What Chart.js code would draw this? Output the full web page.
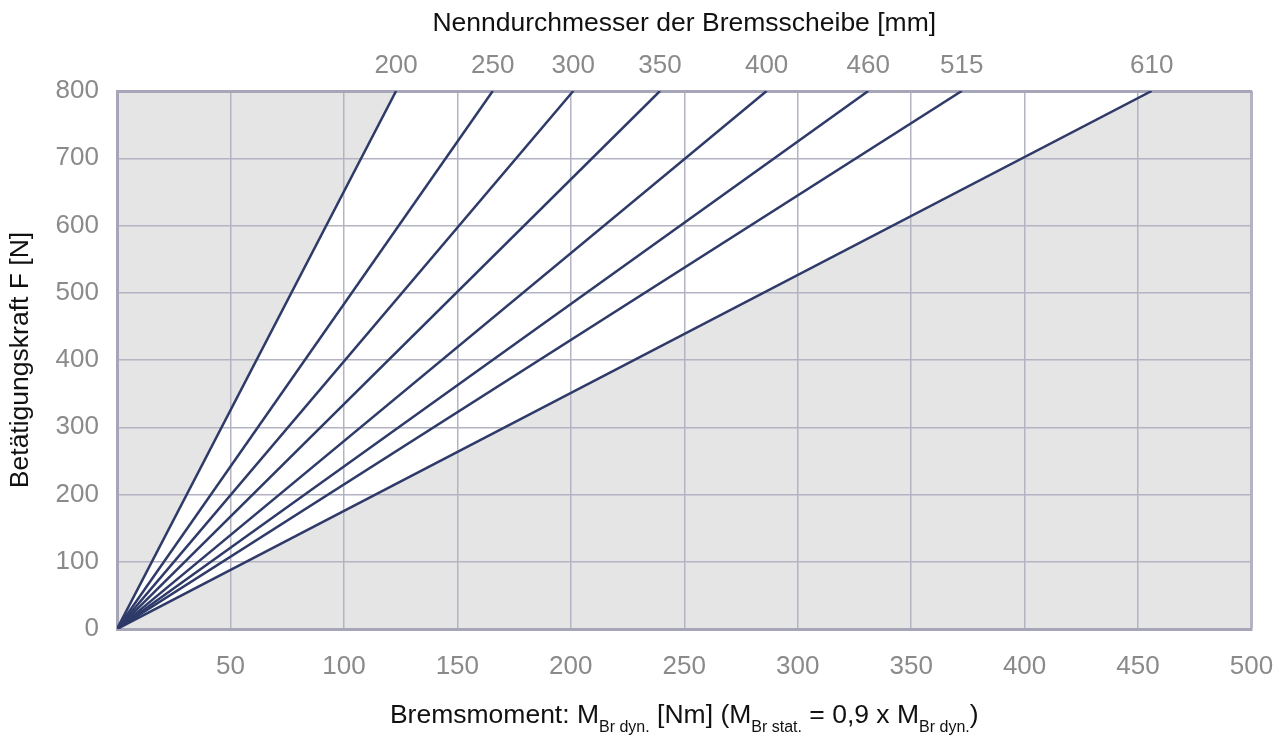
<!DOCTYPE html>
<html>
<head>
<meta charset="utf-8">
<script src="https://cdn.jsdelivr.net/npm/chart.js@4"></script>
<style>
  html, body { margin: 0; padding: 0; background: #ffffff; }
  #wrap { width: 1281px; height: 737px; }
</style>
</head>
<body>
<div id="wrap"><canvas id="c" width="1281" height="737"></canvas></div>
<script>
// ---- data ----
const diameterLabels = ['200', '250', '300', '350', '400', '460', '515', '610'];      // Nenndurchmesser [mm]
const torqueAtMaxForce = [123.0, 165.6, 201.1, 239.3, 286.3, 331.1, 372.3, 456.0];     // Nm at F = 800 N
const forceStart = 0;
const forceMax = 800;
const torqueMin = 0;
const torqueMax = 500;
const torqueStep = 50;
const forceStep = 100;

// ---- styles ----
const FONT = "'Liberation Sans', Arial, sans-serif";
const LINE_COLOR = '#2e3a68';
const GREY_FILL = '#e5e5e5';
const GRID_COLOR = '#b3b3c3';
const BORDER_COLOR = '#a6a6b8';
const TICK_COLOR = '#8a8a8a';

const datasets = [];
// shaded region below the largest-diameter line (and right of it)
const last = torqueAtMaxForce.length - 1;
datasets.push({
  data: [{x: torqueMin, y: forceStart}, {x: torqueAtMaxForce[last], y: forceMax}, {x: torqueMax, y: forceMax}],
  borderWidth: 0, pointRadius: 0, fill: 'start', backgroundColor: GREY_FILL, borderColor: 'rgba(0,0,0,0)'
});
diameterLabels.forEach((d, i) => {
  datasets.push({
    label: d,
    data: [{x: torqueMin, y: forceStart}, {x: torqueAtMaxForce[i], y: forceMax}],
    borderColor: LINE_COLOR,
    borderWidth: 2.5,
    pointRadius: 0,
    fill: i === 0 ? 'end' : false,
    backgroundColor: GREY_FILL
  });
});

const xTitlePlugin = {
  id: 'xTitle',
  afterDraw(chart) {
    const ctx = chart.ctx;
    const parts = [
      ['Bremsmoment: M', false], ['Br dyn.', true], [' [Nm] (M', false], ['Br stat.', true],
      [' = 0,9 x M', false], ['Br dyn.', true], [')', false]
    ];
    const big = '26.5px ' + FONT, small = '16px ' + FONT;
    ctx.save();
    let total = 0;
    parts.forEach(p => { ctx.font = p[1] ? small : big; total += ctx.measureText(p[0]).width; });
    const area = chart.chartArea;
    let x = (area.left + area.right) / 2 - total / 2;
    const base = 723;
    ctx.fillStyle = '#111111';
    ctx.textBaseline = 'alphabetic';
    ctx.textAlign = 'left';
    parts.forEach(p => {
      ctx.font = p[1] ? small : big;
      ctx.fillText(p[0], x, p[1] ? base + 8.5 : base);
      x += ctx.measureText(p[0]).width;
    });
    ctx.restore();
  }
};

new Chart(document.getElementById('c'), {
  type: 'scatter',
  data: { datasets },
  options: {
    responsive: false,
    animation: false,
    devicePixelRatio: 1,
    showLine: true,
    layout: { padding: { left: 0, top: 0, bottom: 0, right: 29.5 } },
    plugins: {
      legend: { display: false },
      tooltip: { enabled: false },
      filler: { drawTime: 'beforeDraw' }
    },
    scales: {
      x: {
        type: 'linear', position: 'bottom', min: torqueMin, max: torqueMax,
        ticks: {
          stepSize: torqueStep, padding: 22, color: TICK_COLOR,
          font: { family: FONT, size: 26 },
          callback: v => (v === torqueMin ? '' : String(v))
        },
        grid: {
          drawTicks: false, color: GRID_COLOR,
          lineWidth: c => (c.tick && c.tick.value === torqueMax ? 3 : 1.5)
        },
        border: { display: true, color: BORDER_COLOR, width: 3 },
        afterFit: s => { s.height = 108; s.paddingLeft = 0; s.paddingRight = 0; }
      },
      x2: {
        type: 'linear', position: 'top', min: torqueMin, max: torqueMax,
        afterBuildTicks: s => { s.ticks = torqueAtMaxForce.map(v => ({ value: v })); },
        ticks: {
          padding: 10, color: TICK_COLOR, font: { family: FONT, size: 26 },
          autoSkip: false, maxRotation: 0,
          callback: (v, i) => diameterLabels[i]
        },
        grid: { display: false, drawTicks: false },
        border: { display: true, color: BORDER_COLOR, width: 3 },
        title: {
          display: true, text: 'Nenndurchmesser der Bremsscheibe [mm]', color: '#111111',
          font: { family: FONT, size: 26.5 }, padding: { top: 8, bottom: 0 }
        },
        afterFit: s => { s.height = 91; s.paddingLeft = 0; s.paddingRight = 0; }
      },
      y: {
        type: 'linear', position: 'left', min: forceStart, max: forceMax,
        ticks: { stepSize: forceStep, padding: 18, color: TICK_COLOR, font: { family: FONT, size: 26 } },
        grid: {
          drawTicks: false, color: GRID_COLOR,
          lineWidth: c => (c.tick && c.tick.value === forceMax ? 3 : 1.5)
        },
        border: { display: true, color: BORDER_COLOR, width: 3 },
        title: {
          display: true, text: 'Betätigungskraft F [N]', color: '#111111',
          font: { family: FONT, size: 26.5 }, padding: { top: 5, bottom: 0 }
        },
        afterFit: s => { s.width = 117; s.paddingTop = 0; s.paddingBottom = 0; }
      }
    }
  },
  plugins: [xTitlePlugin]
});
</script>
</body>
</html>
